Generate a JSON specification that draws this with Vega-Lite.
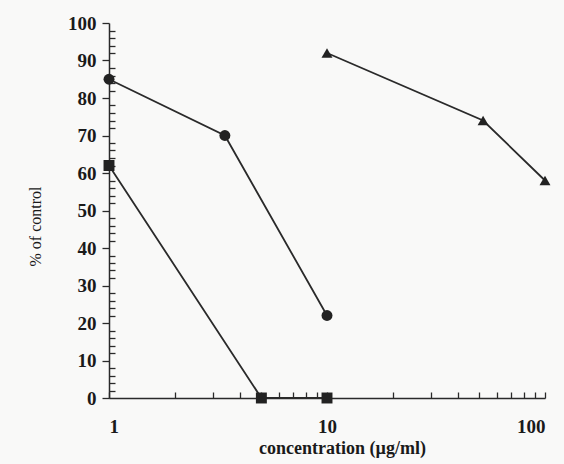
{
  "$schema": "https://vega.github.io/schema/vega-lite/v6.json",
  "width": 436,
  "height": 375,
  "autosize": {"type": "none"},
  "padding": {"left": 109, "top": 23, "right": 19, "bottom": 66},
  "background": "#f9f9f8",
  "config": {"view": {"stroke": null}},
  "data": {
    "values": [
      {"series": "A", "conc": 1, "pct": 85},
      {"series": "A", "conc": 3.4, "pct": 70},
      {"series": "A", "conc": 10, "pct": 22},
      {"series": "B", "conc": 1, "pct": 62},
      {"series": "B", "conc": 5, "pct": 0},
      {"series": "B", "conc": 10, "pct": 0},
      {"series": "C", "conc": 10, "pct": 92},
      {"series": "C", "conc": 52, "pct": 74},
      {"series": "C", "conc": 100, "pct": 58}
    ]
  },
  "encoding": {
    "x": {
      "field": "conc", "type": "quantitative",
      "scale": {"type": "log", "domain": [1, 100], "nice": false},
      "axis": {
        "title": "concentration (µg/ml)",
        "values": [1,2,3,4,5,6,7,8,9,10,20,30,40,50,60,70,80,90,100],
        "labelExpr": "datum.value == 1 || datum.value == 10 || datum.value == 100 ? datum.label : ''",
        "tickSize": -6,
        "labelPadding": 25,
        "grid": false,
        "domainColor": "#2a2a2a", "domainWidth": 1.5,
        "tickColor": "#2a2a2a", "tickWidth": 1.3,
        "labelFont": "Liberation Serif", "labelFontSize": 19, "labelFontWeight": "bold", "labelColor": "#1a1a1a",
        "titleFont": "Liberation Serif", "titleFontSize": 18, "titleFontWeight": "bold", "titleColor": "#1a1a1a",
        "titleX": 233, "titleY": 55, "titleBaseline": "alphabetic", "titleAlign": "center"
      }
    },
    "y": {
      "field": "pct", "type": "quantitative",
      "scale": {"domain": [0, 100], "nice": false},
      "axis": {
        "title": "% of control",
        "values": [0,2,4,6,8,10,12,14,16,18,20,22,24,26,28,30,32,34,36,38,40,42,44,46,48,50,52,54,56,58,60,62,64,66,68,70,72,74,76,78,80,82,84,86,88,90,92,94,96,98,100],
        "labelExpr": "datum.value % 10 == 0 ? datum.label : ''",
        "tickSize": {"condition": {"test": "datum.value % 10 == 0", "value": 7}, "value": -6},
        "labelPadding": 6,
        "grid": false,
        "domainColor": "#2a2a2a", "domainWidth": 1.5,
        "tickColor": "#2a2a2a", "tickWidth": 1.3,
        "labelFont": "Liberation Serif", "labelFontSize": 19, "labelFontWeight": "bold", "labelColor": "#1a1a1a",
        "titleFont": "Liberation Serif", "titleFontSize": 16, "titleFontWeight": "normal", "titleColor": "#1a1a1a",
        "titleX": -74, "titleY": 203, "titleAngle": -90, "titleBaseline": "middle", "titleAlign": "center"
      }
    }
  },
  "layer": [
    {
      "mark": {"type": "line", "color": "#2a2a2a", "strokeWidth": 1.8},
      "encoding": {"detail": {"field": "series"}}
    },
    {
      "mark": {"type": "point", "filled": true, "color": "#222", "opacity": 1, "size": 120},
      "encoding": {
        "shape": {
          "field": "series", "type": "nominal",
          "scale": {"domain": ["A", "B", "C"], "range": ["circle", "square", "triangle-up"]},
          "legend": null
        }
      }
    }
  ]
}
